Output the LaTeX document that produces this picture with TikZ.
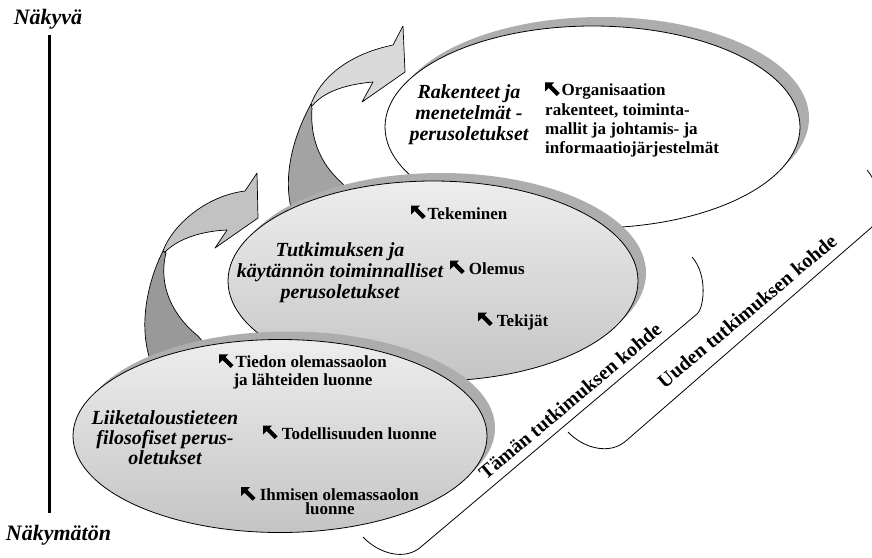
\documentclass[tikz,border=0pt]{standalone}
\usepackage{fontspec}
\setmainfont{Liberation Serif}
\usetikzlibrary{shapes.geometric}

\definecolor{rimgray}{gray}{0.68}
\definecolor{ribfrontA}{gray}{0.76}
\definecolor{ribbackA}{gray}{0.60}
\definecolor{ribfrontB}{gray}{0.85}
\definecolor{ribbackB}{gray}{0.64}
\definecolor{fillhi}{gray}{0.93}
\definecolor{filllo}{gray}{0.77}

% bold north-west pointing arrow used as a bullet
\newcommand\nwglyph{\tikz[baseline=0pt,x=1pt,y=1pt]\fill[black] (0,13.5)--(9,13.5)--(6.4,10.9)--(14.5,2.8)--(11.5,0)--(3.4,7.9)--(0,4.5)--cycle;}

\begin{document}
\begin{tikzpicture}[x=1pt,y=-1pt,
  oval/.style={ellipse, inner sep=0pt, outer sep=0pt, line width=0.8pt},
  rim/.style={oval, fill=rimgray, draw=none},
  ribbon/.style={draw=black, line width=0.7pt, line join=round},
  bracketline/.style={draw=black, line width=0.8pt},
  ital/.style={font=\fontsize{20}{21}\selectfont\bfseries\itshape, align=center, inner sep=0pt},
  body/.style={font=\fontsize{17}{19.3}\selectfont\bfseries, inner sep=0pt},
  axislabel/.style={font=\fontsize{22}{24}\selectfont\bfseries\itshape, inner sep=0pt},
  scopelabel/.style={font=\fontsize{20}{22}\selectfont\bfseries, inner sep=0pt, rotate=40},
  axis/.style={line width=3pt}]
\useasboundingbox (0,0) rectangle (872,557);
\clip (0,0) rectangle (872,557);

% --- top level: structures and methods (white oval) ---
\node[rim, minimum width=415pt, minimum height=202pt] (topshadow) at (601.5,118) {};
\node[oval, minimum width=415pt, minimum height=202pt, fill=white, draw] (top) at (592.5,127) {};

% --- upper twisted arrow ---
\draw[ribbon, fill=ribbackB] (311,104) .. controls (294,135) and (282,175) .. (292,212)
  -- (352,195) -- (342,183) .. controls (318,162) and (310,135) .. (312,108) -- cycle;
\draw[ribbon, fill=ribfrontB] (311,104) .. controls (320,80) and (345,55) .. (393,45)
  -- (403,26) -- (405,72) -- (362,102) -- (373,82)
  .. controls (350,84) and (325,90) .. (312,106) -- cycle;

% --- middle level: operational assumptions ---
\node[rim, minimum width=410pt, minimum height=200pt] (midshadow) at (441,273) {};
\node[oval, minimum width=410pt, minimum height=200pt, top color=fillhi, bottom color=filllo, draw] (mid) at (433,281) {};

% --- lower twisted arrow ---
\draw[ribbon, fill=ribbackA] (163,251) .. controls (146,285) and (138,330) .. (152,365)
  -- (210,350) -- (198,336) .. controls (172,315) and (158,285) .. (166,253) -- cycle;
\draw[ribbon, fill=ribfrontA] (163,251) .. controls (172,226) and (205,196) .. (245,191)
  -- (257,173) -- (258,218) -- (215,248) -- (227,230)
  .. controls (205,231) and (180,237) .. (165,252) -- cycle;

% --- bottom level: philosophical assumptions ---
\node[rim, minimum width=414pt, minimum height=193pt] (botshadow) at (288,428) {};
\node[oval, minimum width=414pt, minimum height=193pt, top color=fillhi, bottom color=filllo, draw] (bot) at (280,436) {};

% --- texts inside the ovals ---
\node[ital] (rak) at (469,115) {Rakenteet ja\\menetelmät -\\perusoletukset};
\node[body, align=left, anchor=west] (org) at (545,120) {\nwglyph\hspace{2pt}Organisaation\\rakenteet, toiminta-\\mallit ja johtamis- ja\\informaatiojärjestelmät};

\node[ital] (tut) at (340,273) {Tutkimuksen ja\\käytännön toiminnalliset\\perusoletukset};
\node[body, anchor=base west] (tek) at (411,219) {\nwglyph\hspace{2pt}Tekeminen};
\node[body, anchor=base west] (ole) at (450,274) {\nwglyph\ Olemus};
\node[body, anchor=base west] (tkj) at (478,326) {\nwglyph\ Tekijät};

\node[ital, font=\fontsize{20}{20}\selectfont\bfseries\itshape] (lii) at (165,438) {Liiketaloustieteen\\filosofiset perus-\\oletukset};
\node[body, align=center, font=\fontsize{17}{18}\selectfont\bfseries] (tie) at (303,372) {\nwglyph\hspace{2pt}Tiedon olemassaolon\\ja lähteiden luonne};
\node[body, anchor=base west] (tod) at (263,439) {\nwglyph\ Todellisuuden luonne};
\node[body, align=center, font=\fontsize{17}{14}\selectfont\bfseries] (ihm) at (330,501) {\nwglyph\ Ihmisen olemassaolon\\luonne};

% --- visibility axis ---
\node[axislabel, anchor=base] (vis) at (48,24.5) {Näkyvä};
\node[axislabel, anchor=base] (invis) at (58.5,540) {Näkymätön};
\coordinate (axtop) at (49.5,35);
\coordinate (axbot) at (49.5,513);
\draw[axis] (axtop) -- (axbot);

% --- scope brackets ---
\coordinate (tA) at (363,537);
\coordinate (tB) at (422,546);
\coordinate (tC) at (697,314);
\coordinate (tD) at (692,257);
\draw[bracketline] (tA) .. controls (378,553) and (405,562) .. (tB) -- (tC)
  .. controls (704,308) and (708,275) .. (tD);
\node[scopelabel] (tlab) at (570,401) {Tämän tutkimuksen kohde};

\coordinate (uA) at (568,432);
\coordinate (uB) at (627,440);
\coordinate (uC) at (872,227);
\coordinate (uD) at (867,170);
\draw[bracketline] (uA) .. controls (583,448) and (610,456) .. (uB) -- (uC)
  .. controls (879,221) and (883,188) .. (uD);
\node[scopelabel] (ulab) at (747,311) {Uuden tutkimuksen kohde};
\end{tikzpicture}
\end{document}
